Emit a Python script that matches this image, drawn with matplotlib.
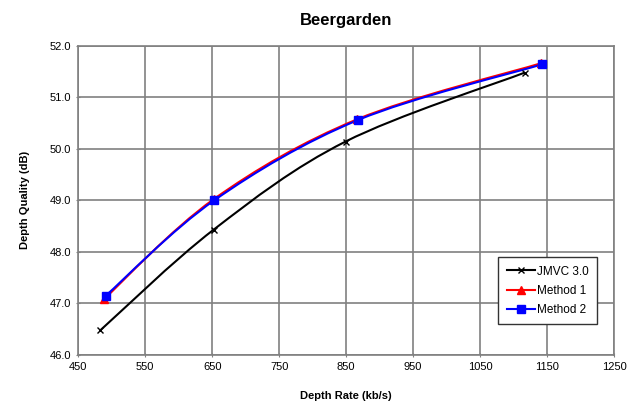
import numpy as np
import matplotlib
matplotlib.use("Agg")
import matplotlib.pyplot as plt
from matplotlib.path import Path
from matplotlib.patches import PathPatch
from matplotlib.lines import Line2D

plt.rcParams['font.family'] = ['Liberation Sans', 'DejaVu Sans']

# --- data ---
jmvc_rate = [483, 652, 849, 1117]
jmvc_q = [46.48, 48.43, 50.14, 51.48]
m1_rate = [488, 652, 866, 1141]
m1_q = [47.08, 49.02, 50.57, 51.66]
m2_rate = [491, 653, 868, 1143]
m2_q = [47.15, 49.00, 50.56, 51.64]
xticks = [450, 550, 650, 750, 850, 950, 1050, 1150, 1250]
yticks = [46.0, 47.0, 48.0, 49.0, 50.0, 51.0, 52.0]

def smooth_path(x, y):
    # Excel-style smoothed line: cubic bezier through the points
    p = np.column_stack([x, y]).astype(float)
    n = len(p)
    verts = [p[0]]; codes = [Path.MOVETO]
    for i in range(n - 1):
        p0 = p[i - 1] if i > 0 else p[i]
        p3 = p[i + 2] if i + 2 < n else p[i + 1]
        c1 = p[i] + (p[i + 1] - p0) / 6
        c2 = p[i + 1] - (p3 - p[i]) / 6
        verts += [c1, c2, p[i + 1]]; codes += [Path.CURVE4] * 3
    return Path(verts, codes)

fig = plt.figure(figsize=(6.39, 4.11), dpi=100)
ax = fig.add_axes([0.1225, 0.1363, 0.8385, 0.7525])

series = [(jmvc_rate, jmvc_q, 'black', 'x', 4.5, 'JMVC 3.0'),
          (m1_rate, m1_q, '#ff0000', '^', 6, 'Method 1'),
          (m2_rate, m2_q, '#0000ff', 's', 5.5, 'Method 2')]
handles = []
for x, y, c, mk, ms, lab in series:
    ax.add_patch(PathPatch(smooth_path(x, y), fill=False, edgecolor=c, lw=1.5, zorder=3))
    ax.plot(x, y, ls='none', marker=mk, color=c, ms=ms, mew=1.0, zorder=4)
    handles.append(Line2D([], [], color=c, marker=mk, ms=ms, lw=1.5, mew=1.0, label=lab))

ax.set_xlim(450, 1250); ax.set_ylim(46, 52)
ax.set_xticks(xticks); ax.set_yticks(yticks)
ax.set_yticklabels([f"{v:.1f}" for v in yticks])
ax.grid(True, color='#808080', lw=1.2)
for s in ax.spines.values():
    s.set_color('#808080'); s.set_linewidth(1.2)
ax.tick_params(labelsize=8, colors='#808080', labelcolor='black', length=3, direction='inout')
ax.set_title("Beergarden", fontsize=12, fontweight='bold', pad=15)
ax.set_xlabel("Depth Rate (kb/s)", fontsize=8, fontweight='bold', labelpad=14)
ax.set_ylabel("Depth Quality (dB)", fontsize=8, fontweight='bold', labelpad=14)
leg = ax.legend(handles=handles, loc='lower right', bbox_to_anchor=(0.98, 0.081), fontsize=8.5,
                fancybox=False, framealpha=1, edgecolor='#333333', borderpad=0.7, labelspacing=0.6,
                handlelength=2.4, handletextpad=0.2)
leg.get_frame().set_linewidth(1.0)
fig.savefig("out.png", dpi=100)
